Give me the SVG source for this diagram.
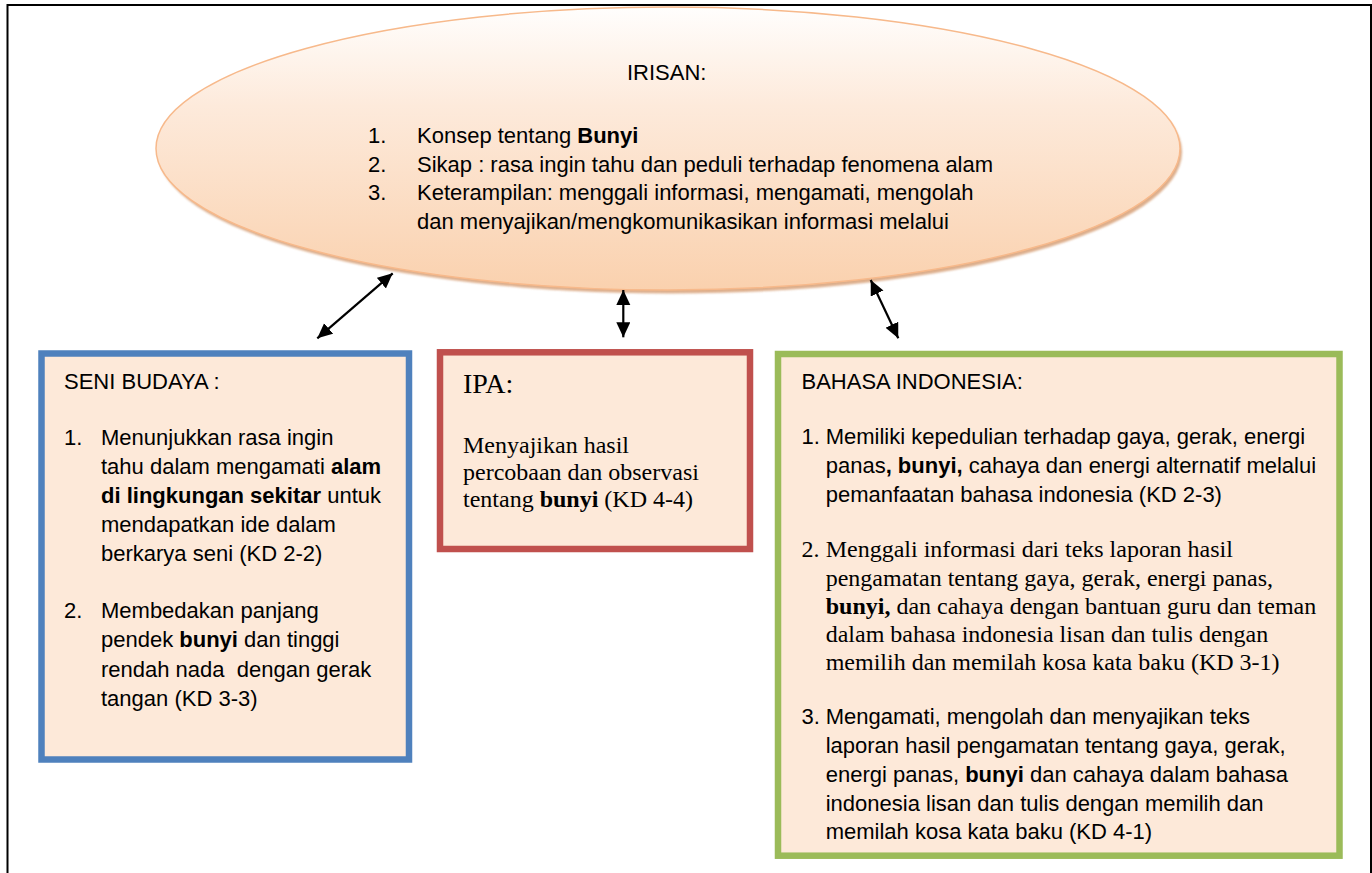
<svg xmlns="http://www.w3.org/2000/svg" width="1372" height="873" viewBox="0 0 1372 873">
  <style>
    .sans { font-family: "Liberation Sans", Arial, sans-serif; font-size: 22px; fill: #000; }
    .serif { font-family: "Liberation Serif", "Times New Roman", serif; font-size: 24px; fill: #000; }
    .b { font-weight: bold; }
    .box { fill: #fde9d9; stroke-width: 6.5; }
    .conn { stroke: #000; stroke-width: 2.2; fill: none; marker-start: url(#head); marker-end: url(#head); }
  </style>
  <defs>
    <linearGradient id="ovalFill" x1="0" y1="0" x2="0" y2="1">
      <stop offset="0" stop-color="#fffefd"/>
      <stop offset="0.35" stop-color="#fdeadb"/>
      <stop offset="1" stop-color="#fad1ae"/>
    </linearGradient>
    <filter id="soft" x="-5%" y="-5%" width="110%" height="115%">
      <feGaussianBlur stdDeviation="1.2"/>
    </filter>
    <marker id="head" markerUnits="userSpaceOnUse" markerWidth="16" markerHeight="16" viewBox="0 0 16 16" refX="15" refY="7" orient="auto-start-reverse">
      <path d="M0,0 L15,7 L0,14 z" fill="#000"/>
    </marker>
  </defs>

  <rect width="1372" height="873" fill="#fff"/>

  <!-- page frame (bottom edge runs off the sheet) -->
  <g id="frame">
    <rect x="7.5" y="5" width="1363.5" height="900" fill="none" stroke="#000" stroke-width="2"/>
  </g>

  <!-- shared concepts oval -->
  <g id="irisan">
    <ellipse cx="670" cy="152" rx="512" ry="141.5" fill="#d49a6e" opacity="0.8" filter="url(#soft)"/>
    <ellipse cx="668" cy="148.5" rx="512" ry="141.5" fill="url(#ovalFill)" stroke="#f7b98b" stroke-width="1.5"/>
    <text class="sans" x="627" y="80">IRISAN:</text>
    <text class="sans" x="368" y="143">1.</text>
    <text class="sans" x="417" y="143">Konsep tentang <tspan class="b">Bunyi</tspan></text>
    <text class="sans" x="368" y="172">2.</text>
    <text class="sans" x="417" y="172">Sikap : rasa ingin tahu dan peduli terhadap fenomena alam</text>
    <text class="sans" x="368" y="200">3.</text>
    <text class="sans" x="417" y="200">Keterampilan: menggali informasi, mengamati, mengolah</text>
    <text class="sans" x="417" y="229">dan menyajikan/mengkomunikasikan informasi melalui</text>
  </g>

  <!-- connectors -->
  <g id="connectors">
    <line class="conn" x1="392.7" y1="273.3" x2="317.3" y2="338.3"/>
    <line class="conn" x1="623.3" y1="290" x2="623.3" y2="337.3"/>
    <line class="conn" x1="870.7" y1="280" x2="898.3" y2="338.3"/>
  </g>

  <!-- Seni Budaya -->
  <g id="seni-budaya">
    <rect class="box" x="41.5" y="353.5" width="367.5" height="406" stroke="#4f81bd"/>
    <text class="sans" x="64" y="389">SENI BUDAYA :</text>
    <text class="sans" x="64" y="445">1.</text>
    <text class="sans" x="101" y="445">Menunjukkan rasa ingin</text>
    <text class="sans" x="101" y="474">tahu dalam mengamati <tspan class="b">alam</tspan></text>
    <text class="sans" x="101" y="503"><tspan class="b">di lingkungan sekitar</tspan> untuk</text>
    <text class="sans" x="101" y="532">mendapatkan ide dalam</text>
    <text class="sans" x="101" y="561">berkarya seni (KD 2-2)</text>
    <text class="sans" x="64" y="618">2.</text>
    <text class="sans" x="101" y="618">Membedakan panjang</text>
    <text class="sans" x="101" y="647">pendek <tspan class="b">bunyi</tspan> dan tinggi</text>
    <text class="sans" x="101" y="677">rendah nada &#160;dengan gerak</text>
    <text class="sans" x="101" y="706">tangan (KD 3-3)</text>
  </g>

  <!-- IPA -->
  <g id="ipa">
    <rect class="box" x="440" y="352.3" width="310" height="196.7" stroke="#c0504d" stroke-width="6"/>
    <text class="serif" x="463" y="393" style="font-size:28px">IPA:</text>
    <text class="serif" x="463" y="453">Menyajikan hasil</text>
    <text class="serif" x="463" y="480">percobaan dan observasi</text>
    <text class="serif" x="463" y="507">tentang <tspan class="b">bunyi</tspan> (KD 4-4)</text>
  </g>

  <!-- Bahasa Indonesia -->
  <g id="bahasa-indonesia">
    <rect class="box" x="778" y="354" width="561.5" height="501.7" stroke="#9bbb59"/>
    <text class="sans" x="801.5" y="389">BAHASA INDONESIA:</text>
    <text class="sans" x="801.5" y="444">1.</text>
    <text class="sans" x="825.7" y="444">Memiliki kepedulian terhadap gaya, gerak, energi</text>
    <text class="sans" x="825.7" y="473">panas<tspan class="b">, bunyi,</tspan> cahaya dan energi alternatif melalui</text>
    <text class="sans" x="825.7" y="502">pemanfaatan bahasa indonesia (KD 2-3)</text>
    <text class="serif" x="801.5" y="557">2.</text>
    <text class="serif" x="825.7" y="557">Menggali informasi dari teks laporan hasil</text>
    <text class="serif" x="825.7" y="585.5">pengamatan tentang gaya, gerak, energi panas,</text>
    <text class="serif" x="825.7" y="614"><tspan class="b">bunyi,</tspan> dan cahaya dengan bantuan guru dan teman</text>
    <text class="serif" x="825.7" y="642">dalam bahasa indonesia lisan dan tulis dengan</text>
    <text class="serif" x="825.7" y="670">memilih dan memilah kosa kata baku (KD 3-1)</text>
    <text class="sans" x="801.5" y="724">3.</text>
    <text class="sans" x="825.7" y="724">Mengamati, mengolah dan menyajikan teks</text>
    <text class="sans" x="825.7" y="752.5">laporan hasil pengamatan tentang gaya, gerak,</text>
    <text class="sans" x="825.7" y="781.5">energi panas, <tspan class="b">bunyi</tspan> dan cahaya dalam bahasa</text>
    <text class="sans" x="825.7" y="810.5">indonesia lisan dan tulis dengan memilih dan</text>
    <text class="sans" x="825.7" y="839">memilah kosa kata baku (KD 4-1)</text>
  </g>
</svg>
